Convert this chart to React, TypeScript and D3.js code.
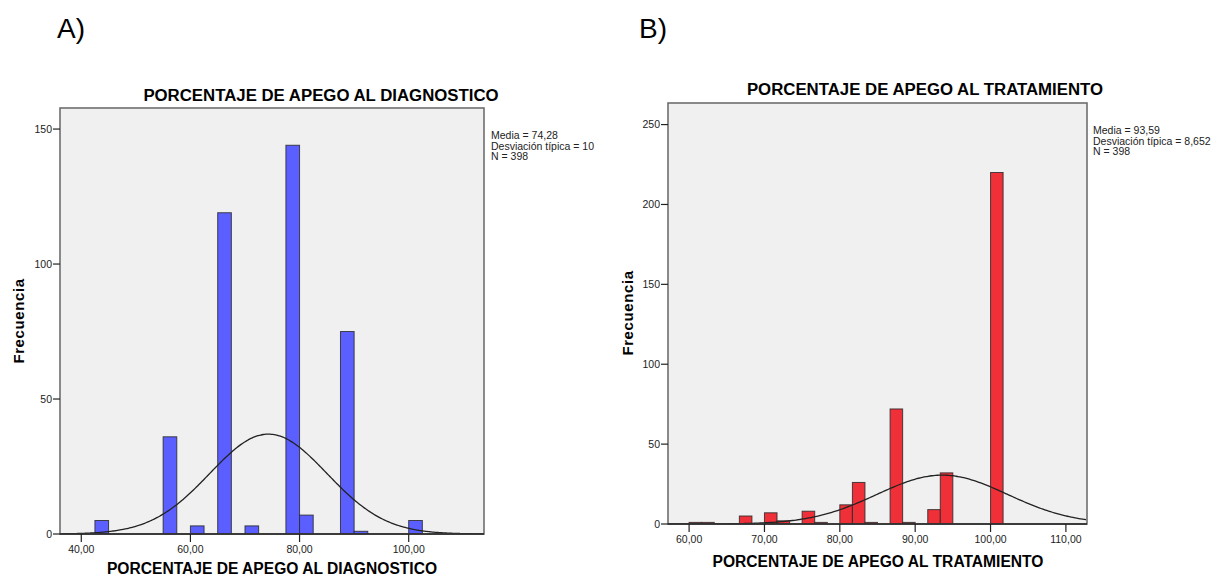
import React from "react";
import * as d3 from "d3";

// A) porcentaje de apego al diagnostico
const diagBinStarts = [42.5, 55, 60, 65, 70, 77.5, 80, 87.5, 90, 100];
const diagCounts = [5, 36, 3, 119, 3, 144, 7, 75, 1, 5];
const diagBinWidth = 2.5;
const diagStats = { mean: 74.28, sd: 10.73, n: 398 };
const diagStatLines = ["Media = 74,28", "Desviación típica = 10", "N = 398"];
const diagXTicks = [40, 60, 80, 100];
const diagYTicks = [0, 50, 100, 150];

// B) porcentaje de apego al tratamiento
const tratBinStarts = [60, 61.67, 66.67, 70, 71.67, 75, 76.67, 80, 81.67, 83.33, 86.67, 88.33, 91.67, 93.33, 100];
const tratCounts = [1, 1, 5, 7, 2, 8, 1, 12, 26, 1, 72, 1, 9, 32, 220];
const tratBinWidth = 5 / 3;
const tratStats = { mean: 93.59, sd: 8.652, n: 398 };
const tratStatLines = ["Media = 93,59", "Desviación típica = 8,652", "N = 398"];
const tratXTicks = [60, 70, 80, 90, 100, 110];
const tratYTicks = [0, 50, 100, 150, 200, 250];

const FONT = "'Liberation Sans', Arial, sans-serif";
const NARROW = "'Liberation Sans Narrow', 'Arial Narrow', 'Liberation Sans', sans-serif";
const fmtX = (v: number) => d3.format(".2f")(v).replace(".", ",");

type PanelProps = {
  id: string;
  frame: { left: number; right: number; top: number; bottom: number };
  xDomain: [number, number];
  yDomain: [number, number];
  xTicks: number[];
  yTicks: number[];
  starts: number[];
  counts: number[];
  binWidth: number;
  stats: { mean: number; sd: number; n: number };
  statLines: string[];
  statX: number;
  statY: number;
  fill: string;
  title: string;
  titleX: number;
  titleY: number;
  xLabelX: number;
  xLabelY: number;
  yLabelX: number;
  yLabelY: number;
};

const Histogram = (p: PanelProps) => {
  const x = d3.scaleLinear().domain(p.xDomain).range([p.frame.left, p.frame.right]);
  const y = d3.scaleLinear().domain(p.yDomain).range([p.frame.bottom, p.frame.top]);
  const { mean, sd, n } = p.stats;
  // fitted normal curve scaled to counts per bin
  const density = (v: number) =>
    (n * p.binWidth * Math.exp(-0.5 * ((v - mean) / sd) ** 2)) / (sd * Math.sqrt(2 * Math.PI));
  const xs = d3.range(p.xDomain[0], p.xDomain[1] + 0.01, 0.25);
  const line = d3
    .line<number>()
    .x((v) => x(v))
    .y((v) => y(density(v)))
    .curve(d3.curveBasis);
  const clipId = `clip-${p.id}`;
  const w = p.frame.right - p.frame.left;
  const h = p.frame.bottom - p.frame.top;

  return (
    <g>
      <defs>
        <clipPath id={clipId}>
          <rect x={p.frame.left} y={p.frame.top} width={w} height={h} />
        </clipPath>
      </defs>
      <text x={p.titleX} y={p.titleY} textAnchor="middle" fontFamily={FONT} fontWeight="bold" fontSize={16.8} fill="#000">
        {p.title}
      </text>
      <rect x={p.frame.left} y={p.frame.top} width={w} height={h} fill="#f0f0f0" />
      <g clipPath={`url(#${clipId})`}>
        {p.starts.map((s, i) => (
          <rect
            key={i}
            x={x(s)}
            y={y(p.counts[i])}
            width={x(s + p.binWidth) - x(s)}
            height={y(0) - y(p.counts[i])}
            fill={p.fill}
            stroke="#2a2a2a"
            strokeOpacity={0.85}
            strokeWidth={1}
          />
        ))}
        <path d={line(xs) || ""} fill="none" stroke="#222" strokeWidth={1.3} />
      </g>
      <rect x={p.frame.left} y={p.frame.top} width={w} height={h} fill="none" stroke="#6e6e6e" strokeWidth={1.6} />
      <line x1={p.frame.left} x2={p.frame.right} y1={p.frame.bottom} y2={p.frame.bottom} stroke="#222" strokeWidth={1.3} />
      {p.yTicks.map((t) => (
        <g key={`y${t}`}>
          <line x1={p.frame.left - 7} x2={p.frame.left} y1={y(t)} y2={y(t)} stroke="#222" strokeWidth={1.2} />
          <text x={p.frame.left - 8} y={y(t) + 3.8} textAnchor="end" fontFamily={FONT} fontSize={10.5} fill="#222">
            {t}
          </text>
        </g>
      ))}
      {p.xTicks.map((t) => (
        <g key={`x${t}`}>
          <line x1={x(t)} x2={x(t)} y1={p.frame.bottom} y2={p.frame.bottom + 8} stroke="#222" strokeWidth={1.2} />
          <text x={x(t)} y={p.frame.bottom + 19} textAnchor="middle" fontFamily={FONT} fontSize={10.5} fill="#222">
            {fmtX(t)}
          </text>
        </g>
      ))}
      <text x={p.xLabelX} y={p.xLabelY} textAnchor="middle" fontFamily={FONT} fontWeight="bold" fontSize={15.6} fill="#000">
        {p.title}
      </text>
      <text
        transform={`translate(${p.yLabelX},${p.yLabelY}) rotate(-90)`}
        textAnchor="middle"
        fontFamily={FONT}
        fontWeight="bold"
        fontSize={15}
        letterSpacing={0.6}
        fill="#000"
      >
        Frecuencia
      </text>
      {p.statLines.map((s, i) => (
        <text key={s} x={p.statX} y={p.statY + i * 10.7} fontFamily={NARROW} fontSize={10.5} fill="#222">
          {s}
        </text>
      ))}
    </g>
  );
};

export default function App() {
  return (
    <svg width={1220} height={578} style={{ position: "absolute", left: 0, top: 0, background: "#fff" }}>
      <text x={57} y={38} fontFamily={FONT} fontSize={28} fill="#000">
        A)
      </text>
      <text x={639} y={38} fontFamily={FONT} fontSize={28} fill="#000">
        B)
      </text>
      <Histogram
        id="diag"
        frame={{ left: 60, right: 484, top: 108, bottom: 534 }}
        xDomain={[36.1, 113.8]}
        yDomain={[0, 157.8]}
        xTicks={diagXTicks}
        yTicks={diagYTicks}
        starts={diagBinStarts}
        counts={diagCounts}
        binWidth={diagBinWidth}
        stats={diagStats}
        statLines={diagStatLines}
        statX={491}
        statY={139}
        fill="#5b5fff"
        title="PORCENTAJE DE APEGO AL DIAGNOSTICO"
        titleX={321}
        titleY={101}
        xLabelX={272}
        xLabelY={574}
        yLabelX={24}
        yLabelY={321}
      />
      <Histogram
        id="trat"
        frame={{ left: 668, right: 1087, top: 103, bottom: 524 }}
        xDomain={[57.2, 112.8]}
        yDomain={[0, 263.5]}
        xTicks={tratXTicks}
        yTicks={tratYTicks}
        starts={tratBinStarts}
        counts={tratCounts}
        binWidth={tratBinWidth}
        stats={tratStats}
        statLines={tratStatLines}
        statX={1093}
        statY={134}
        fill="#ef3038"
        title="PORCENTAJE DE APEGO AL TRATAMIENTO"
        titleX={925}
        titleY={95}
        xLabelX={878}
        xLabelY={567}
        yLabelX={633}
        yLabelY={313}
      />
    </svg>
  );
}
